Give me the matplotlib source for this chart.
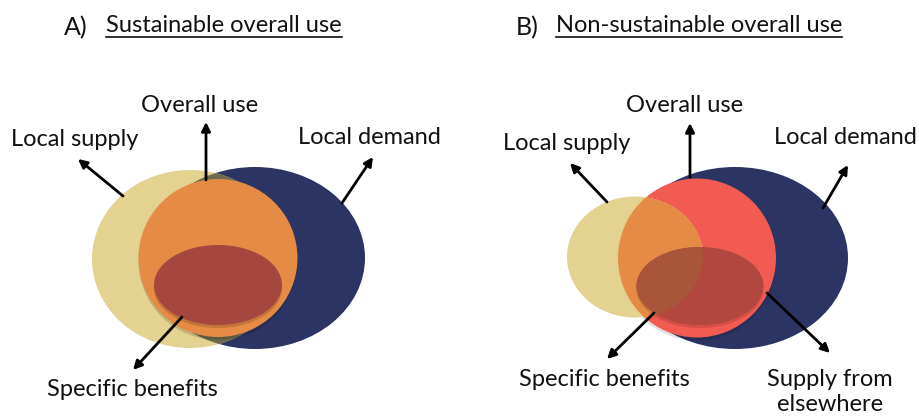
import matplotlib
matplotlib.use("Agg")
import matplotlib.pyplot as plt
from matplotlib.patches import Ellipse

plt.rcParams['font.family'] = ['Lato', 'DejaVu Sans']

W, H = 920, 416
FS = 17

# colours
NAVY = '#2B3462'
YELLOW = '#E3D290'
OLIVE = '#6E6A50'
ORANGE = '#E58B45'
RED_A = '#A5473F'
CORAL = '#F25B52'
RED_B = '#B1473F'
BROWN_B = '#A9553A'

# Panel titles
panel_letters = ['A)', 'B)']
panel_titles = ['Sustainable overall use', 'Non-sustainable overall use']
title_letter_x = [64, 516]
title_text_x = [106, 556]
title_y = 27

# Shapes (centre x, centre y, width, height) in pixel units
A_supply = (190, 259, 196, 178)
A_demand = (255, 258, 220, 182)
A_use = (218, 258, 159, 158)
A_benefit = (218, 285, 128, 80)

B_supply = (635, 257, 136, 121)
B_demand = (735, 258, 226, 182)
B_use = (697, 258, 158, 159)
B_benefit = (700, 286, 127, 78)

# arrows: (tail x, tail y, head x, head y)
arrowsA = [(123, 196, 78, 159), (206, 180, 206, 122), (342, 203, 373, 157), (182, 317, 133, 370)]
arrowsB = [(607, 202, 570, 163), (690, 177, 690, 123), (823, 208, 848, 165),
           (654, 313, 607, 359), (767, 293, 830, 353)]

# labels: (text, x, y, ha)
labelsA = [('Local supply', 11, 140, 'left'), ('Overall use', 200, 106, 'center'),
           ('Local demand', 298, 138, 'left'), ('Specific benefits', 47, 389, 'left')]
labelsB = [('Local supply', 503, 143, 'left'), ('Overall use', 685, 106, 'center'),
           ('Local demand', 774, 137, 'left'), ('Specific benefits', 519, 380, 'left'),
           ('Supply from\nelsewhere', 830, 392, 'center')]

fig = plt.figure(figsize=(W / 100, H / 100), dpi=100)
ax = fig.add_axes([0, 0, 1, 1])
ax.set_xlim(0, W)
ax.set_ylim(H, 0)
ax.axis('off')


def ell(p, color, z, clip=None, dy=0, alpha=1.0):
    e = Ellipse((p[0], p[1] + dy), p[2], p[3], facecolor=color, edgecolor='none',
                zorder=z, alpha=alpha)
    ax.add_patch(e)
    if clip is not None:
        e.set_clip_path(clip)
    return e


# Panel A
ell(A_demand, NAVY, 1)
ya = ell(A_supply, YELLOW, 2)
ell(A_demand, OLIVE, 3, clip=ya)
ell(A_use, 'black', 3.5, dy=3, alpha=0.15)
ell(A_use, ORANGE, 4)
ell(A_benefit, 'black', 4.5, dy=3, alpha=0.15)
ell(A_benefit, RED_A, 5)

# Panel B
ell(B_demand, NAVY, 1)
ell(B_use, 'black', 1.5, dy=3, alpha=0.12)
ell(B_use, CORAL, 2)
yb = ell(B_supply, YELLOW, 3)
ell(B_use, ORANGE, 4, clip=yb)
ell(B_benefit, 'black', 4.5, dy=3, alpha=0.12)
ell(B_benefit, RED_B, 5)
ell(B_benefit, BROWN_B, 6, clip=yb)

for (x0, y0, x1, y1) in arrowsA + arrowsB:
    ax.annotate('', xy=(x1, y1), xytext=(x0, y0),
                arrowprops=dict(arrowstyle='-|>', color='black', lw=2,
                                mutation_scale=13, shrinkA=0, shrinkB=0),
                zorder=10)

for (t, x, y, ha) in labelsA + labelsB:
    ax.text(x, y, t, ha=ha, va='center', fontsize=FS, color='#111111',
            linespacing=1.25, zorder=11)

fig.canvas.draw()
r = fig.canvas.get_renderer()
for L, T, lx, tx in zip(panel_letters, panel_titles, title_letter_x, title_text_x):
    ax.text(lx, title_y + 1, L, ha='left', va='center', fontsize=FS + 1, color='#111111')
    tt = ax.text(tx, title_y - 1, T, ha='left', va='center', fontsize=FS, color='#111111')
    bb = tt.get_window_extent(r)
    x0, _ = ax.transData.inverted().transform((bb.x0, bb.y0))
    x1, _ = ax.transData.inverted().transform((bb.x1, bb.y0))
    ax.plot([x0, x1], [37, 37], color='#111111', lw=1.2)

fig.savefig('out.png', dpi=100)
